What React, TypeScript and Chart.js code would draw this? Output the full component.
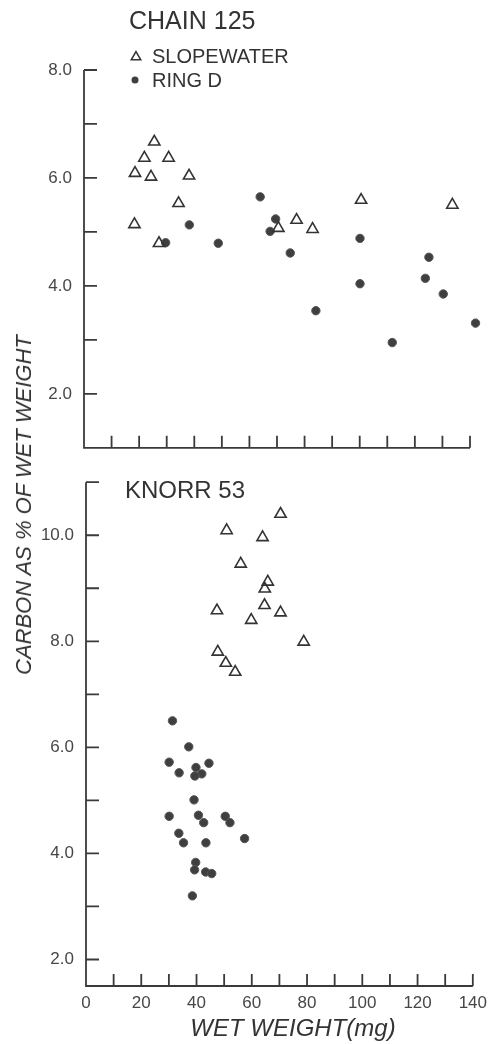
import React, { useEffect, useRef } from 'react';
import { Chart, registerables } from 'chart.js';

Chart.register(...registerables);

const FONT = '"Liberation Sans", Arial, sans-serif';
const INK = '#333333';
const LABEL_INK = '#474747';
const DOT = '#3f3f3f';

// ---- axes / ticks ----
const xTickValues = [0, 10, 20, 30, 40, 50, 60, 70, 80, 90, 100, 110, 120, 130, 140];
const xLabelValues = [0, 20, 40, 60, 80, 100, 120, 140];
const xAxisEnd = 140;
const chainYTicks = [2, 3, 4, 5, 6, 7, 8];
const chainYLabels = [2, 4, 6, 8];
const knorrYTicks = [2, 3, 4, 5, 6, 7, 8, 9, 10, 11];
const knorrYLabels = [2, 4, 6, 8, 10];

// ---- text ----
const chainTitle = 'CHAIN 125';
const knorrTitle = 'KNORR 53';
const seriesNames = ['SLOPEWATER', 'RING D'];
const xTitle = 'WET WEIGHT(mg)';
const yTitle = 'CARBON AS % OF WET WEIGHT';

// ---- CHAIN 125 data ----
const chainSlopeX = [18.5, 21.9, 25.5, 24.3, 30.7, 38.1, 34.3, 18.3, 27.2, 70.5, 77.1, 82.9, 100.5, 133.6];
const chainSlopeY = [6.09, 6.37, 6.67, 6.02, 6.37, 6.04, 5.53, 5.14, 4.79, 5.07, 5.22, 5.05, 5.59, 5.5];
const chainRingX = [29.6, 38.2, 48.7, 63.9, 69.5, 67.5, 100.1, 74.8, 84.1, 100.1, 111.8, 125.1, 123.8, 130.3, 142.0];
const chainRingY = [4.8, 5.13, 4.79, 5.65, 5.24, 5.01, 4.88, 4.61, 3.54, 4.04, 2.95, 4.53, 4.14, 3.85, 3.31];

// ---- KNORR 53 data ----
const knorrSlopeX = [70.4, 50.9, 63.9, 56.0, 65.8, 64.7, 64.6, 47.4, 70.4, 59.8, 78.8, 47.7, 50.6, 54.0];
const knorrSlopeY = [10.4, 10.09, 9.96, 9.46, 9.12, 8.99, 8.68, 8.58, 8.54, 8.4, 7.99, 7.8, 7.59, 7.42];
const knorrRingX = [31.3, 37.2, 30.1, 44.5, 39.8, 33.7, 41.9, 39.4, 39.1, 30.1, 40.7, 50.4, 42.6, 52.1, 33.6, 35.3, 43.4, 57.4, 39.7, 39.3, 43.3, 45.5, 38.5];
const knorrRingY = [6.5, 6.01, 5.72, 5.7, 5.62, 5.52, 5.5, 5.46, 5.01, 4.7, 4.72, 4.7, 4.58, 4.58, 4.38, 4.2, 4.2, 4.28, 3.83, 3.69, 3.65, 3.62, 3.2];

const toPoints = (xs: number[], ys: number[]) => xs.map((x, i) => ({ x, y: ys[i] }));

function makeDatasets(sx: number[], sy: number[], rx: number[], ry: number[]) {
  return [
    {
      label: seriesNames[0],
      data: toPoints(sx, sy),
      pointStyle: 'triangle',
      pointRadius: 6.5,
      borderWidth: 1.6,
      borderColor: INK,
      backgroundColor: 'rgba(255,255,255,0)',
      showLine: false,
      clip: false,
    },
    {
      label: seriesNames[1],
      data: toPoints(rx, ry),
      pointStyle: 'circle',
      pointRadius: 4.2,
      borderWidth: 1,
      borderColor: '#555555',
      backgroundColor: DOT,
      showLine: false,
      clip: false,
    },
  ];
}

function axesPlugin(yTicks: number[]) {
  return {
    id: 'inwardAxes',
    beforeDatasetsDraw(chart: any) {
      const { ctx, chartArea, scales } = chart;
      const x = scales.x;
      const y = scales.y;
      const xEnd = x.getPixelForValue(xAxisEnd);
      ctx.save();
      ctx.strokeStyle = '#3a3a3a';
      ctx.lineWidth = 1.8;
      ctx.lineCap = 'butt';
      ctx.beginPath();
      ctx.moveTo(chartArea.left, chartArea.top);
      ctx.lineTo(chartArea.left, chartArea.bottom);
      ctx.lineTo(xEnd, chartArea.bottom);
      for (const v of yTicks) {
        const py = y.getPixelForValue(v);
        ctx.moveTo(chartArea.left, py);
        ctx.lineTo(chartArea.left + 13, py);
      }
      for (const v of xTickValues) {
        if (v === 0) continue;
        const px = x.getPixelForValue(v);
        ctx.moveTo(px, chartArea.bottom);
        ctx.lineTo(px, chartArea.bottom - 12);
      }
      ctx.stroke();
      ctx.restore();
    },
  };
}

function textPlugin(kind: 'chain' | 'knorr') {
  return {
    id: 'panelText',
    afterDraw(chart: any) {
      const { ctx } = chart;
      ctx.save();
      ctx.fillStyle = INK;
      ctx.textAlign = 'left';
      ctx.textBaseline = 'alphabetic';
      if (kind === 'chain') {
        ctx.font = `25px ${FONT}`;
        ctx.fillText(chainTitle, 129, 29);
        // legend
        ctx.font = `20px ${FONT}`;
        ctx.fillText(seriesNames[0], 152, 63);
        ctx.fillText(seriesNames[1], 152, 87);
        const r = 5.5;
        const cx = 136;
        const cy = 57;
        ctx.strokeStyle = INK;
        ctx.lineWidth = 1.5;
        ctx.beginPath();
        for (let k = 0; k < 3; k++) {
          const a = (k * 2 * Math.PI) / 3;
          const px = cx + Math.sin(a) * r;
          const py = cy - Math.cos(a) * r;
          if (k === 0) ctx.moveTo(px, py);
          else ctx.lineTo(px, py);
        }
        ctx.closePath();
        ctx.stroke();
        ctx.fillStyle = DOT;
        ctx.beginPath();
        ctx.arc(135, 80, 3.5, 0, Math.PI * 2);
        ctx.fill();
      } else {
        ctx.font = `24px ${FONT}`;
        ctx.fillText(knorrTitle, 125, 38);
        ctx.font = `italic 24px ${FONT}`;
        ctx.textAlign = 'center';
        ctx.textBaseline = 'middle';
        ctx.fillText(xTitle, 293, 569);
      }
      ctx.restore();
    },
  };
}

function buildOptions(opts: {
  xMax: number;
  yMin: number;
  yMax: number;
  yTicks: number[];
  yLabels: number[];
  yWidth: number;
  xHeight: number;
  padTop: number;
  padRight: number;
  showXLabels: boolean;
}) {
  return {
    responsive: false,
    animation: false,
    events: [],
    layout: { padding: { top: opts.padTop, right: opts.padRight, left: 0, bottom: 0 } },
    plugins: { legend: { display: false }, tooltip: { enabled: false }, title: { display: false } },
    scales: {
      x: {
        type: 'linear',
        min: 0,
        max: opts.xMax,
        afterBuildTicks: (s: any) => {
          s.ticks = xTickValues.map((v) => ({ value: v }));
        },
        afterFit: (s: any) => {
          s.height = opts.xHeight;
        },
        grid: { display: false, drawTicks: false },
        border: { display: false },
        ticks: {
          display: opts.showXLabels,
          autoSkip: false,
          maxRotation: 0,
          padding: 7,
          color: LABEL_INK,
          font: { family: FONT, size: 17 },
          callback: (v: any) => (xLabelValues.includes(Number(v)) ? String(v) : ''),
        },
      },
      y: {
        type: 'linear',
        min: opts.yMin,
        max: opts.yMax,
        afterBuildTicks: (s: any) => {
          s.ticks = opts.yTicks.map((v) => ({ value: v }));
        },
        afterFit: (s: any) => {
          s.width = opts.yWidth;
        },
        grid: { display: false, drawTicks: false },
        border: { display: false },
        ticks: {
          autoSkip: false,
          padding: 12,
          color: LABEL_INK,
          font: { family: FONT, size: 17 },
          callback: (v: any) => (opts.yLabels.includes(Number(v)) ? Number(v).toFixed(1) : ''),
        },
      },
    },
  };
}

export default function App() {
  const topRef = useRef<HTMLCanvasElement | null>(null);
  const bottomRef = useRef<HTMLCanvasElement | null>(null);

  useEffect(() => {
    const charts: Chart[] = [];
    if (topRef.current) {
      charts.push(
        new Chart(topRef.current, {
          type: 'scatter',
          data: { datasets: makeDatasets(chainSlopeX, chainSlopeY, chainRingX, chainRingY) as any },
          options: buildOptions({
            xMax: 144,
            yMin: 1,
            yMax: 8,
            yTicks: chainYTicks,
            yLabels: chainYLabels,
            yWidth: 84,
            xHeight: 22,
            padTop: 70,
            padRight: 494 - (84 + (386 * 144) / 140),
            showXLabels: false,
          }) as any,
          plugins: [axesPlugin(chainYTicks), textPlugin('chain')],
        })
      );
    }
    if (bottomRef.current) {
      charts.push(
        new Chart(bottomRef.current, {
          type: 'scatter',
          data: { datasets: makeDatasets(knorrSlopeX, knorrSlopeY, knorrRingX, knorrRingY) as any },
          options: buildOptions({
            xMax: 140,
            yMin: 1.5,
            yMax: 11,
            yTicks: knorrYTicks,
            yLabels: knorrYLabels,
            yWidth: 86,
            xHeight: 58,
            padTop: 10,
            padRight: 20,
            showXLabels: true,
          }) as any,
          plugins: [axesPlugin(knorrYTicks), textPlugin('knorr')],
        })
      );
    }
    return () => {
      charts.forEach((c) => c.destroy());
    };
  }, []);

  return (
    <div
      style={{
        position: 'absolute',
        left: 0,
        top: 0,
        width: 494,
        height: 1044,
        background: '#ffffff',
        overflow: 'hidden',
      }}
    >
      <canvas
        ref={topRef}
        width={494}
        height={470}
        style={{ position: 'absolute', left: 0, top: 0, width: 494, height: 470, display: 'block' }}
      />
      <canvas
        ref={bottomRef}
        width={494}
        height={584}
        style={{ position: 'absolute', left: 0, top: 460, width: 494, height: 584, display: 'block' }}
      />
      <div
        style={{
          position: 'absolute',
          left: 24,
          top: 505,
          transform: 'translate(-50%, -50%) rotate(-90deg)',
          whiteSpace: 'nowrap',
          fontFamily: FONT,
          fontStyle: 'italic',
          fontSize: 22,
          lineHeight: 1,
          color: INK,
        }}
      >
        {yTitle}
      </div>
    </div>
  );
}
